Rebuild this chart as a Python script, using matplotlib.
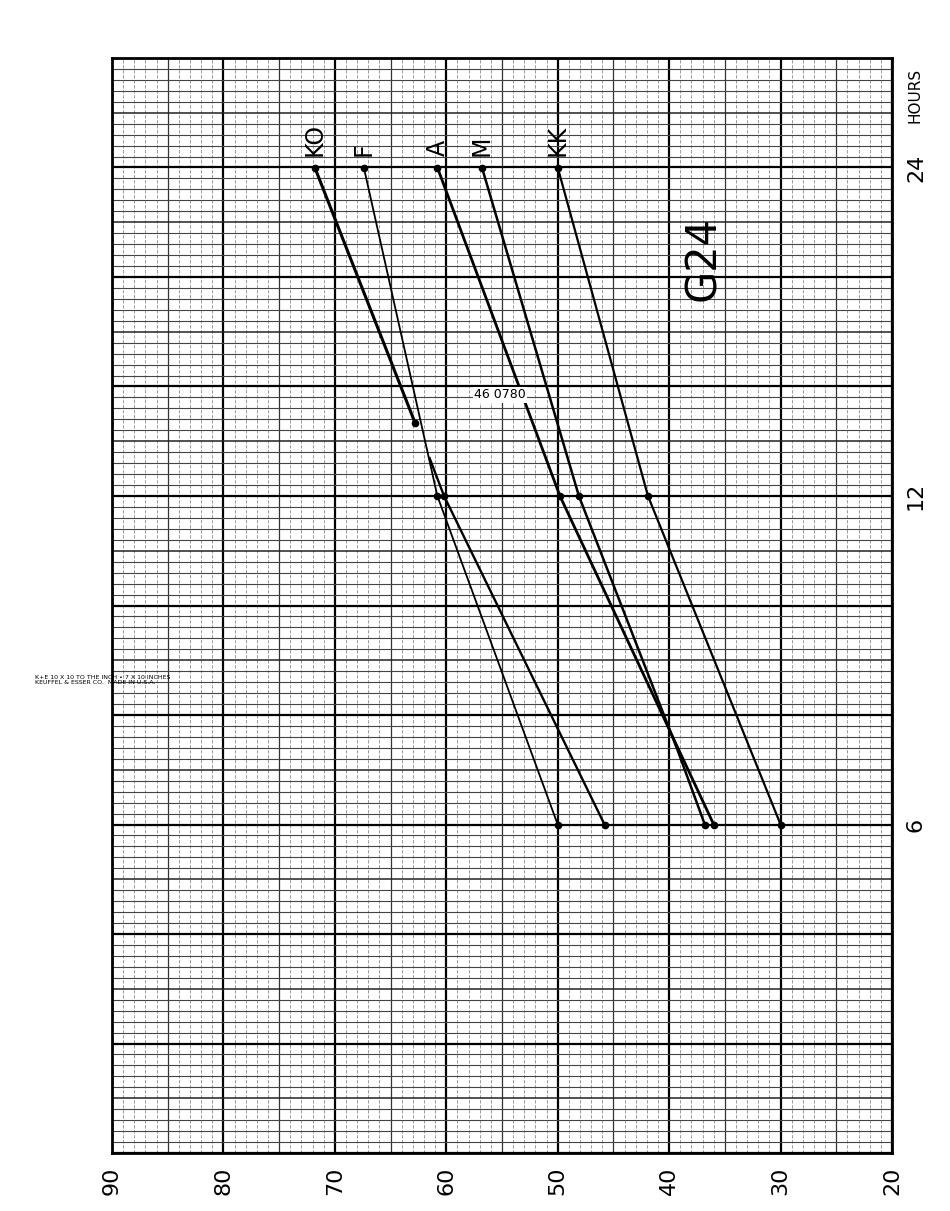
import matplotlib
matplotlib.use("Agg")
import matplotlib.pyplot as plt
from matplotlib.ticker import NullLocator

##########################################
# Data (hours vs. value)
KO_HOURS_TOP = [24, 14]
KO_VALS_TOP = [71.8, 62.8]
KO_HOURS_LOW = [13, 12, 6]
KO_VALS_LOW = [61.5, 60.2, 45.8]
F_HOURS = [24, 12, 6]
F_VALS = [67.4, 60.8, 50.0]
A_HOURS = [24, 12, 6]
A_VALS = [60.8, 49.8, 36.0]
M_HOURS = [24, 12, 7, 6]
M_VALS = [56.8, 48.1, 39.2, 36.8]
KK_HOURS = [24, 12, 6]
KK_VALS = [50.0, 41.9, 30.0]

NAMES = ["KO", "F", "A", "M", "KK"]
VALUE_TICKS = [90, 80, 70, 60, 50, 40, 30, 20]
HOUR_TICKS = [6, 12, 24]
HOUR_LABELS = ["6", "12", "24"]

##########################################
# Page geometry (pixels of a 950 x 1211 sheet)
W, H = 950, 1211
LEFT, RIGHT, TOP, BOTTOM = 112, 892, 58, 1153
rect = [LEFT / W, (H - BOTTOM) / H, (RIGHT - LEFT) / W, (BOTTOM - TOP) / H]

fig = plt.figure(figsize=(W / 100, H / 100), dpi=100)
fig.patch.set_facecolor("white")

##########################################
# Graph paper: 7 x 10 inches, 10 squares to the inch
paper = fig.add_axes(rect, zorder=0)
paper.set_xlim(0, 70)
paper.set_ylim(0, 100)
for i in range(71):
    if i % 10 == 0:
        paper.axvline(i, color="black", lw=1.6)
    elif i % 5 == 0:
        paper.axvline(i, color="#333333", lw=0.9)
    else:
        paper.axvline(i, color="#8a8a8a", lw=0.6, ls=(0, (4, 2)))
for j in range(101):
    if j % 10 == 0:
        paper.axhline(j, color="black", lw=1.6)
    elif j % 5 == 0:
        paper.axhline(j, color="#222222", lw=1.1)
    else:
        paper.axhline(j, color="#444444", lw=0.8)
paper.set_xticks([])
paper.set_yticks([])
for s in paper.spines.values():
    s.set_linewidth(2)

##########################################
# Data axes on top: value runs 90 -> 20, hours double every 3 inches
ax = fig.add_axes(rect, zorder=1)
ax.patch.set_alpha(0)
ax.set_xlim(90, 20)
ax.set_yscale("log", base=2)
ax.set_ylim(3, 3 * 2 ** (10 / 3))
for s in ax.spines.values():
    s.set_visible(False)

ax.plot(KO_VALS_TOP, KO_HOURS_TOP, color="black", lw=2.2, marker="o", ms=4.5)
ax.plot(KO_VALS_LOW, KO_HOURS_LOW, color="black", lw=1.7, marker="o", ms=4.5, markevery=[1, 2])
ax.plot(F_VALS, F_HOURS, color="black", lw=1.3, marker="o", ms=4.5)
ax.plot(A_VALS, A_HOURS, color="black", lw=2.0, marker="o", ms=4.5)
ax.plot(M_VALS, M_HOURS, color="black", lw=1.8, marker="o", ms=4.5, markevery=[0, 1, 3])
ax.plot(KK_VALS, KK_HOURS, color="black", lw=1.6, marker="o", ms=4.5)

# series names written above the 24 hour points
ends = [KO_VALS_TOP[0], F_VALS[0], A_VALS[0], M_VALS[0], KK_VALS[0]]
for name, v in zip(NAMES, ends):
    ax.annotate(name, (v, 24), xytext=(0, 8), textcoords="offset points",
                rotation=90, ha="center", va="bottom", fontsize=17)

##########################################
# Ticks and hand labels
ax.set_xticks(VALUE_TICKS)
ax.set_xticklabels([str(v) for v in VALUE_TICKS], rotation=90, fontsize=16)
ax.set_yticks(HOUR_TICKS)
ax.set_yticklabels(HOUR_LABELS, rotation=90, fontsize=16, va="center")
ax.yaxis.set_minor_locator(NullLocator())
ax.yaxis.tick_right()
ax.tick_params(length=0, pad=10)

fig.text(915 / W, 1 - 95 / H, "HOURS", rotation=90, fontsize=11, ha="center", va="center")
fig.text(703 / W, 1 - 258 / H, "G24", rotation=90, fontsize=30, ha="center", va="center")
fig.text(500 / W, 1 - 395 / H, "46 0780", fontsize=9, ha="center", va="center",
         bbox=dict(facecolor="white", edgecolor="none", pad=1))
fig.text(35 / W, 1 - 680 / H,
         "K+E 10 X 10 TO THE INCH \u2022 7 X 10 INCHES\nKEUFFEL & ESSER CO.  MADE IN U.S.A.",
         fontsize=4.5, ha="left", va="center", linespacing=1.1)

fig.savefig("out.png", dpi=100)
